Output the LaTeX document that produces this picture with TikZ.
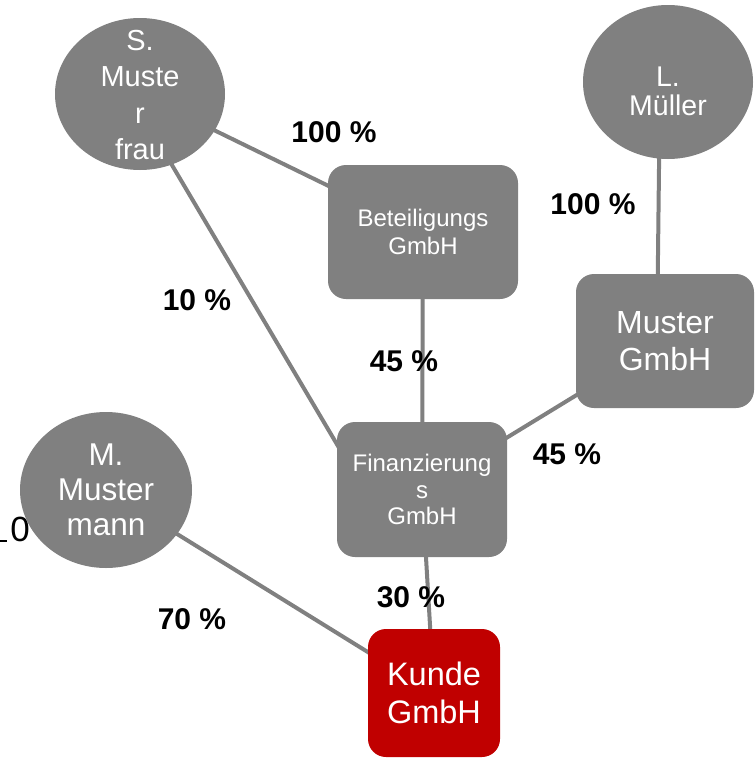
\documentclass[tikz,border=0pt]{standalone}
\usepackage{fontspec}
\setmainfont{Liberation Sans}
\usetikzlibrary{shapes.geometric,backgrounds}
\definecolor{boxgray}{HTML}{808080}
\definecolor{kred}{HTML}{C00000}
\definecolor{linegray}{HTML}{808080}
\begin{document}
\begin{tikzpicture}[x=1pt,y=-1pt,
  person/.style={ellipse, fill=boxgray, draw=none, inner sep=0pt},
  firm/.style={rectangle, rounded corners=18pt, fill=boxgray, draw=none, inner sep=0pt, text=white, align=center},
  ntext/.style={text=white, align=center, inner sep=0pt},
  pct/.style={font=\bfseries\fontsize{30}{32}\selectfont, inner sep=0pt},
  link/.style={draw=linegray, line width=4pt}]
\useasboundingbox (0,0) rectangle (755,763);

% fragment at the left edge
\node[inner sep=0pt, font=\fontsize{35}{40}\selectfont] (frag) at (20,529) {0};
\draw[line width=1.5pt] (0,541) -- (7,541);

% persons
\node[person, minimum width=170pt, minimum height=152pt] (sm) at (140,94) {};
\node[ntext, font=\fontsize{29}{36.5}\selectfont] (smt) at (140,95) {S.\\Muste\\r\\frau};
\node[person, minimum width=170pt, minimum height=154pt] (lm) at (668,82) {};
\node[ntext, font=\fontsize{28.5}{29}\selectfont] (lmt) at (668,91) {L.\\Müller};
\node[person, minimum width=172pt, minimum height=156pt] (mm) at (106,490) {};
\node[ntext, font=\fontsize{31.5}{35}\selectfont] (mmt) at (106,490) {M.\\Muster\\mann};

% companies
\node[firm, minimum width=190pt, minimum height=134pt, font=\fontsize{24}{28}\selectfont] (bet) at (423,232) {Beteiligungs\\GmbH};
\node[firm, minimum width=178pt, minimum height=134pt, font=\fontsize{32}{37}\selectfont] (mg) at (665,341) {Muster\\GmbH};
\node[firm, minimum width=170pt, minimum height=135pt, font=\fontsize{24}{26.5}\selectfont] (fin) at (422,489.5) {Finanzierung\\s\\GmbH};
\node[firm, fill=kred, minimum width=132pt, minimum height=128pt, font=\fontsize{32.5}{38}\selectfont] (kd) at (434,693) {Kunde\\GmbH};

% percentages
\node[pct] (p1) at (334,132) {100 \%};
\node[pct] (p2) at (593,204) {100 \%};
\node[pct] (p3) at (197,300) {10 \%};
\node[pct] (p4) at (404,361) {45 \%};
\node[pct] (p5) at (567,454) {45 \%};
\node[pct] (p6) at (411,597) {30 \%};
\node[pct] (p7) at (192,619) {70 \%};

% connectors
\begin{scope}[on background layer]
\draw[link] (sm.center) -- (bet.center);
\draw[link] ([xshift=-10pt]sm.center) -- ([xshift=4pt,yshift=-29pt]fin.north west);
\draw[link] (bet.center) -- (fin.center);
\draw[link] ([xshift=-8pt]lm.center) -- ([xshift=-8pt]mg.center);
\draw[link] (mg.center) -- (fin.center);
\draw[link] (fin.center) -- (kd.center);
\draw[link] (mm.center) -- (kd.center);
\end{scope}
\end{tikzpicture}
\end{document}
